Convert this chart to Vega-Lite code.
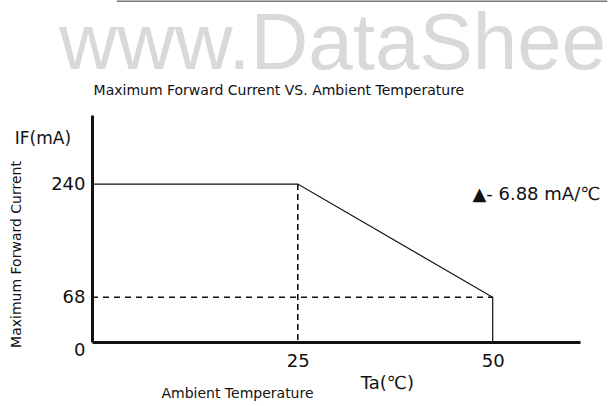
{
  "$schema": "https://vega.github.io/schema/vega-lite/v6.json",
  "width": 488,
  "height": 227,
  "autosize": "none",
  "padding": {"left": 92, "top": 115, "right": 28, "bottom": 64},
  "background": "white",
  "config": {"view": {"stroke": null}, "font": "DejaVu Sans"},
  "layer": [
    {
      "data": {"values": [
        {"t": -1.4, "i": 240},
        {"t": 25, "i": 240},
        {"t": 50, "i": 68},
        {"t": 50, "i": 0}
      ]},
      "mark": {"type": "line", "color": "#111111", "strokeWidth": 1.2},
      "encoding": {
        "x": {
          "field": "t", "type": "quantitative",
          "scale": {"domain": [-1.4, 61.2], "nice": false, "zero": false},
          "axis": {
            "values": [25, 50],
            "grid": false,
            "ticks": false,
            "labelPadding": 10,
            "labelFontSize": 18,
            "labelFont": "DejaVu Sans",
            "labelColor": "#111111",
            "domainColor": "#111111",
            "domainWidth": 3,
            "title": "Ambient Temperature",
            "titleFont": "DejaVu Sans",
            "titleFontSize": 14,
            "titleFontWeight": "normal",
            "titleColor": "#111111",
            "titleX": 145,
            "titleY": 55,
            "titleAlign": "center",
            "titleBaseline": "alphabetic"
          }
        },
        "y": {
          "field": "i", "type": "quantitative",
          "scale": {"domain": [0, 345], "nice": false},
          "axis": {
            "values": [0, 68, 240],
            "grid": false,
            "ticks": false,
            "labelPadding": 7,
            "labelFontSize": 18,
            "labelFont": "DejaVu Sans",
            "labelColor": "#111111",
            "labelOffset": {"condition": {"test": "datum.value === 0", "value": 8}, "value": 0},
            "domainColor": "#111111",
            "domainWidth": 3,
            "title": "Maximum Forward Current",
            "titleFont": "DejaVu Sans",
            "titleFontSize": 14,
            "titleFontWeight": "normal",
            "titleColor": "#111111",
            "titleAngle": 270,
            "titleX": -76,
            "titleY": 139,
            "titleAlign": "center",
            "titleBaseline": "middle"
          }
        },
        "order": {"field": "t", "type": "quantitative"}
      }
    },
    {
      "data": {"values": [{"t": 25, "i": 240}, {"t": 25, "i": 0}]},
      "mark": {"type": "line", "color": "#111111", "strokeWidth": 1.6, "strokeDash": [6, 4]},
      "encoding": {
        "x": {"field": "t", "type": "quantitative"},
        "y": {"field": "i", "type": "quantitative"}
      }
    },
    {
      "data": {"values": [{"t": -1.4, "i": 68}, {"t": 50, "i": 68}]},
      "mark": {"type": "line", "color": "#111111", "strokeWidth": 1.3, "strokeDash": [6, 5]},
      "encoding": {
        "x": {"field": "t", "type": "quantitative"},
        "y": {"field": "i", "type": "quantitative"}
      }
    },
    {
      "data": {"values": [{"t": 1.8, "t2": 64.7, "i": 518}]},
      "mark": {"type": "rule", "color": "#777777", "strokeWidth": 1.5},
      "encoding": {
        "x": {"field": "t", "type": "quantitative"},
        "x2": {"field": "t2"},
        "y": {"field": "i", "type": "quantitative"}
      }
    },
    {
      "data": {"values": [{"label": "www.DataShee", "t": -5.6, "i": 415}]},
      "mark": {"type": "text", "fontSize": 80, "color": "#d9d9d9", "align": "left", "baseline": "alphabetic", "font": "Liberation Sans"},
      "encoding": {
        "x": {"field": "t", "type": "quantitative"},
        "y": {"field": "i", "type": "quantitative"},
        "text": {"field": "label"}
      }
    },
    {
      "data": {"values": [{"label": "Maximum Forward Current VS. Ambient Temperature", "t": -1.2, "i": 376}]},
      "mark": {"type": "text", "fontSize": 14, "color": "#111111", "align": "left", "baseline": "alphabetic"},
      "encoding": {
        "x": {"field": "t", "type": "quantitative"},
        "y": {"field": "i", "type": "quantitative"},
        "text": {"field": "label"}
      }
    },
    {
      "data": {"values": [{"label": "IF(mA)", "t": -7.7, "i": 308}]},
      "mark": {"type": "text", "fontSize": 17, "color": "#111111", "align": "center", "baseline": "middle"},
      "encoding": {
        "x": {"field": "t", "type": "quantitative"},
        "y": {"field": "i", "type": "quantitative"},
        "text": {"field": "label"}
      }
    },
    {
      "data": {"values": [{"label": "Ta(℃)", "t": 36.5, "i": -64}]},
      "mark": {"type": "text", "fontSize": 18, "color": "#111111", "align": "center", "baseline": "middle"},
      "encoding": {
        "x": {"field": "t", "type": "quantitative"},
        "y": {"field": "i", "type": "quantitative"},
        "text": {"field": "label"}
      }
    },
    {
      "data": {"values": [{"label": "▲- 6.88 mA/℃", "t": 47.4, "i": 223}]},
      "mark": {"type": "text", "fontSize": 18, "color": "#111111", "align": "left", "baseline": "middle"},
      "encoding": {
        "x": {"field": "t", "type": "quantitative"},
        "y": {"field": "i", "type": "quantitative"},
        "text": {"field": "label"}
      }
    }
  ]
}
